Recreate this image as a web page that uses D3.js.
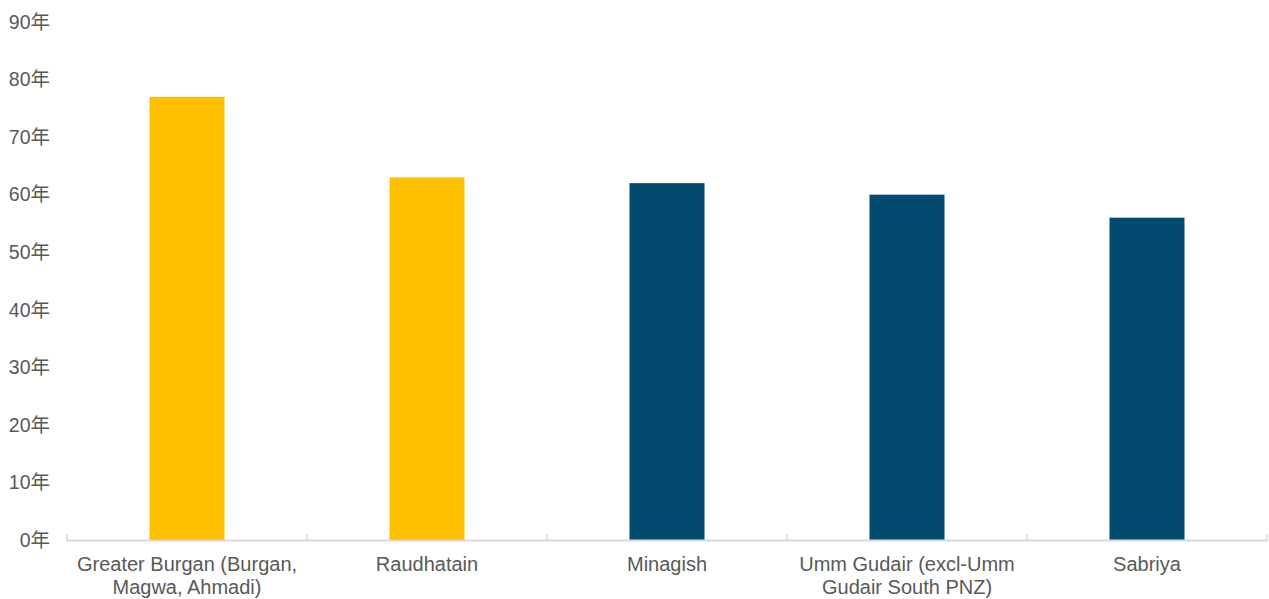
<!DOCTYPE html>
<html>
<head>
<meta charset="utf-8">
<script src="https://cdn.jsdelivr.net/npm/d3@7"></script>
<style>
  body { margin: 0; background: #fff; }
  svg text { font-family: "Liberation Sans", Arial, "Noto Sans CJK SC", sans-serif; fill: #595959; }
</style>
</head>
<body>
<svg width="1269" height="599"></svg>
<script>
// data
var fields = [
  "Greater Burgan (Burgan,\nMagwa, Ahmadi)",
  "Raudhatain",
  "Minagish",
  "Umm Gudair (excl-Umm\nGudair South PNZ)",
  "Sabriya"
];
var years = [77, 63, 62, 60, 56];
var barColors = ["#FFC000", "#FFC000", "#024B6F", "#024B6F", "#024B6F"];
var yTicks = [0, 10, 20, 30, 40, 50, 60, 70, 80, 90];

var svg = d3.select("svg"),
  margin = {top: 22, right: 2, bottom: 59, left: 67},
  width = +svg.attr("width") - margin.left - margin.right,
  height = +svg.attr("height") - margin.top - margin.bottom;

var x = d3.scaleBand().domain(fields).range([0, width]).paddingInner(0.6875).paddingOuter(0.34375);
var band = d3.scaleBand().domain(fields).range([0, width]);
var y = d3.scaleLinear().domain([0, 90]).range([height, 0]);

var g = svg.append("g")
  .attr("transform", "translate(" + margin.left + "," + margin.top + ")");

// y labels (no axis line)
var ya = g.append("g")
  .call(d3.axisLeft(y).tickValues(yTicks).tickSize(0).tickPadding(17).tickFormat(function(d) { return d + "年"; }));
ya.select(".domain").remove();
ya.selectAll("text").style("font-size", "19.5px").attr("fill", null);

// bars
g.selectAll(".bar")
  .data(fields)
  .enter().append("rect")
  .attr("class", "bar")
  .attr("x", function(d) { return x(d); })
  .attr("y", function(d, i) { return y(years[i]); })
  .attr("width", x.bandwidth())
  .attr("height", function(d, i) { return height - y(years[i]); })
  .attr("fill", function(d, i) { return barColors[i]; });

// x axis line with category boundary ticks
g.append("line")
  .attr("x1", 0).attr("x2", width)
  .attr("y1", height + 0.5).attr("y2", height + 0.5)
  .attr("stroke", "#D9D9D9").attr("stroke-width", 2);

g.selectAll(".sep")
  .data(fields.concat(["end"]))
  .enter().append("line")
  .attr("class", "sep")
  .attr("x1", function(d, i) { return i < fields.length ? band(d) : width; })
  .attr("x2", function(d, i) { return i < fields.length ? band(d) : width; })
  .attr("y1", height - 6).attr("y2", height + 1)
  .attr("stroke", "#D9D9D9").attr("stroke-width", 1.5);

// category labels
var lab = g.selectAll(".lab")
  .data(fields)
  .enter().append("text")
  .attr("class", "lab")
  .attr("text-anchor", "middle")
  .style("font-size", "20px")
  .attr("transform", function(d) { return "translate(" + (band(d) + band.bandwidth() / 2) + "," + (height + 31) + ")"; });

lab.selectAll("tspan")
  .data(function(d) { return d.split("\n"); })
  .enter().append("tspan")
  .attr("x", 0)
  .attr("dy", function(d, i) { return i === 0 ? 0 : 23; })
  .text(function(d) { return d; });
</script>
</body>
</html>
